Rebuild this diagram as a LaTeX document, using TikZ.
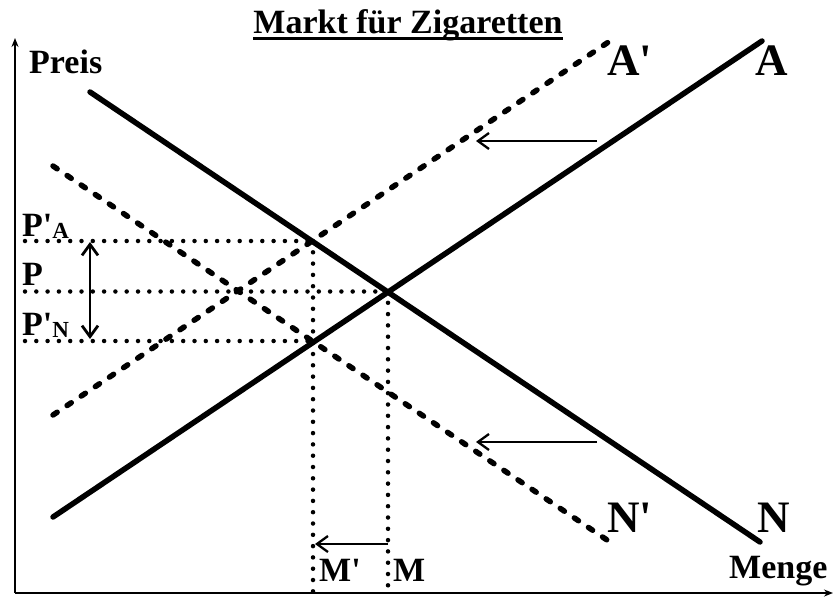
\documentclass[tikz,border=0pt]{standalone}
\usepackage{fontspec}
\setmainfont{Liberation Serif}[Ligatures=TeXOff]
\usetikzlibrary{arrows.meta}
\begin{document}
\begin{tikzpicture}[x=1pt,y=-1pt,
  curve/.style={line width=5.5pt, line cap=round},
  dcurve/.style={curve, dash pattern=on 5pt off 12pt},
  guide/.style={line width=4.5pt, line cap=round, dash pattern=on 0pt off 11.3pt},
  shiftarrow/.style={line width=2.3pt, -{Straight Barb[length=11pt,width=16pt,line width=2.3pt]}},
  axis/.style={line width=2.6pt, -{Stealth[length=9pt,width=7pt]}},
  lab/.style={inner sep=0pt, anchor=base west, font=\fontsize{34}{36}\selectfont\bfseries},
  big/.style={lab, font=\fontsize{45}{48}\selectfont\bfseries}]
\useasboundingbox (0,0) rectangle (834,597);
% axes
\coordinate (O) at (15,593);
\coordinate (Ytop) at (15,38);
\coordinate (Xend) at (833,593);
\draw[axis] (O) -- (Ytop);
\draw[axis] (O) -- (Xend);
% title
\node[inner sep=0pt, anchor=base, font=\fontsize{34}{36}\selectfont\bfseries] (title) at (408,33) {Markt für Zigaretten};
\draw[line width=3pt] ([yshift=-5pt]title.base west) -- ([yshift=-5pt]title.base east);
% curve end points
\coordinate (A1) at (53,517);   \coordinate (A2) at (762,41);
\coordinate (N1) at (90,92);    \coordinate (N2) at (760,542);
\coordinate (Ap1) at (53,415);  \coordinate (Ap2) at (610,41);
\coordinate (Np1) at (53,166);  \coordinate (Np2) at (610,542);
% intersections
\coordinate (E) at (388,291.5);
\coordinate (EA) at (313,241);
\coordinate (EN) at (313,341);
\coordinate (PA0) at (25,241);
\coordinate (P0) at (25,291.5);
\coordinate (PN0) at (25,341);
\coordinate (M0) at (388,593);
\coordinate (Mp0) at (313,593);
% guides
\draw[guide] (PA0) -- (EA);
\draw[guide] (P0) -- (E);
\draw[guide] (PN0) -- (EN);
\draw[guide] (EA) -- (Mp0);
\draw[guide] (E) -- (M0);
% curves
\draw[curve] (A1) -- (A2);
\draw[curve] (N1) -- (N2);
\draw[dcurve] (Ap1) -- (Ap2);
\draw[dcurve] (Np1) -- (Np2);
% shift arrows
\coordinate (s1a) at (597,141); \coordinate (s1b) at (476,141);
\coordinate (s2a) at (597,442); \coordinate (s2b) at (476,442);
\coordinate (s3a) at (388,544); \coordinate (s3b) at (315,544);
\coordinate (dA) at (90,242);   \coordinate (dN) at (90,339);
\draw[shiftarrow] (s1a) -- (s1b);
\draw[shiftarrow] (s2a) -- (s2b);
\draw[shiftarrow] (s3a) -- (s3b);
\draw[line width=2.8pt, {Straight Barb[length=11pt,width=16pt,line width=2.8pt]}-{Straight Barb[length=11pt,width=16pt,line width=2.8pt]}] (dA) -- (dN);
% labels
\node[lab] (preis) at (29,73) {Preis};
\node[lab] (menge) at (729,578) {Menge};
\node[lab] (mp) at (319,581) {M'};
\node[lab] (m) at (393,581) {M};
\node[lab] (pa) at (22,236) {P'\raisebox{-2pt}{\fontsize{23}{23}\selectfont A}};
\node[lab] (p) at (22,285) {P};
\node[lab] (pn) at (22,335) {P'\raisebox{-2pt}{\fontsize{23}{23}\selectfont N}};
\node[big] (ap) at (607,75) {A'};
\node[big] (a) at (755,75) {A};
\node[big] (np) at (607,532) {N'};
\node[big] (n) at (757,532) {N};
\end{tikzpicture}
\end{document}
